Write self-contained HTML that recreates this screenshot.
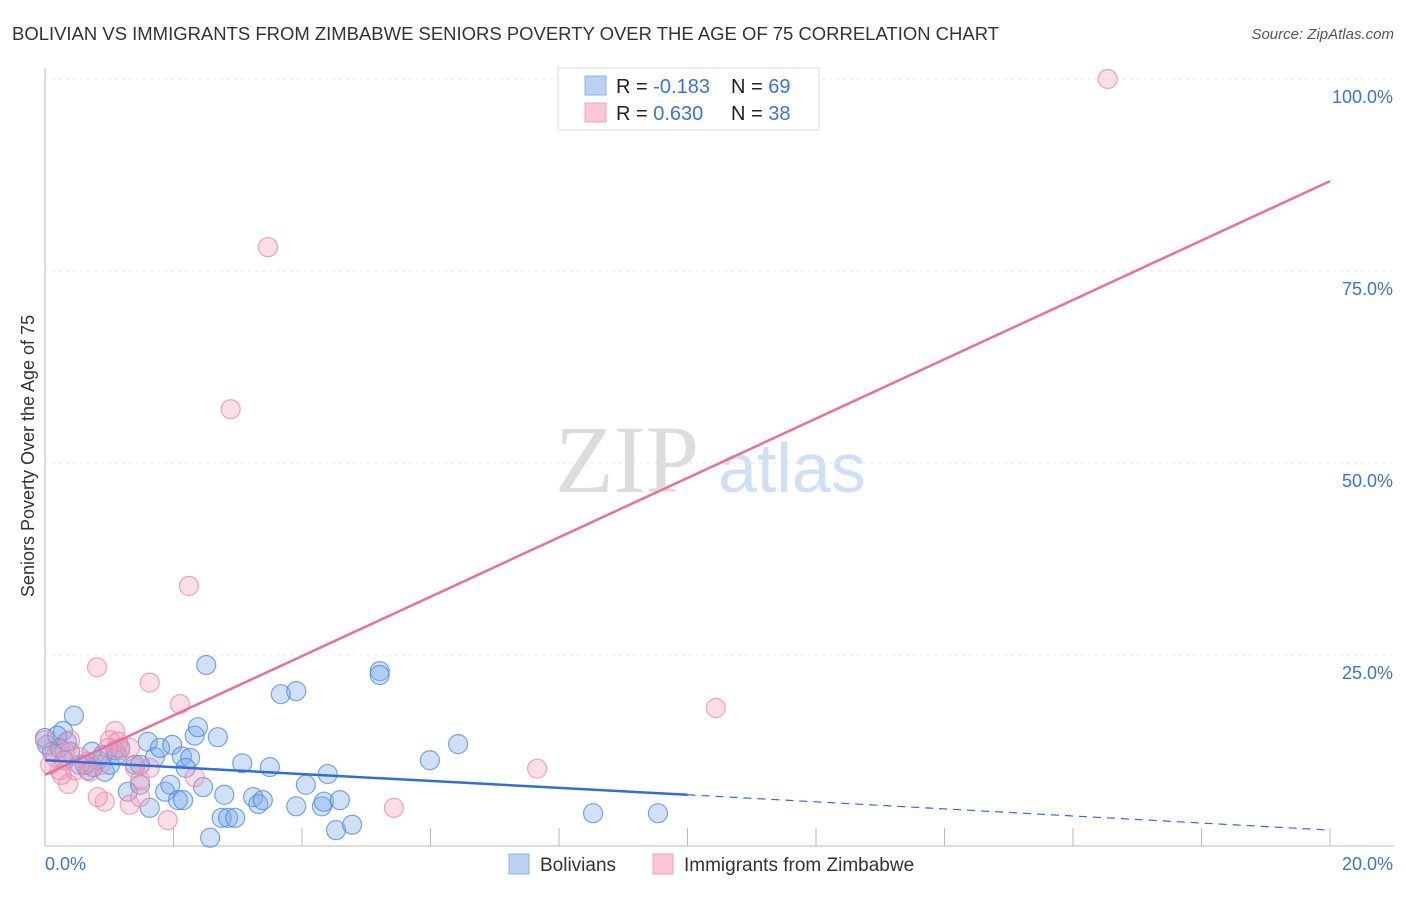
<!DOCTYPE html>
<html><head><meta charset="utf-8"><style>
body{margin:0;background:#fff;font-family:"Liberation Sans",sans-serif;}
</style></head><body>
<svg id="c" width="1406" height="892" xmlns="http://www.w3.org/2000/svg">
<text x="12" y="40" font-size="18" fill="#333" textLength="987" lengthAdjust="spacingAndGlyphs">BOLIVIAN VS IMMIGRANTS FROM ZIMBABWE SENIORS POVERTY OVER THE AGE OF 75 CORRELATION CHART</text>
<text x="1394" y="39" font-size="15" fill="#555" text-anchor="end" font-style="italic">Source: ZipAtlas.com</text>
<text x="555" y="492" font-size="96" fill="#dcdcdc" font-family="Liberation Serif,serif">ZIP</text>
<text x="718" y="492" font-size="70" fill="#cfe0f5">atlas</text>
<text transform="translate(34,456) rotate(-90)" font-size="18" fill="#333" text-anchor="middle">Seniors Poverty Over the Age of 75</text>
<g id="grid"></g><g id="pts"></g><g id="trend"></g>
<g>
<rect x="558" y="68" width="261" height="62" fill="#fff" stroke="#ddd"/>
<rect x="585" y="76" width="21" height="19" fill="#b9d1f3" stroke="#8fb2e6"/>
<rect x="585" y="103" width="21" height="19" fill="#f9c6d5" stroke="#eea5bb"/>
<text x="616" y="93" font-size="20" fill="#222">R = <tspan fill="#3b73d6">-0.183</tspan></text>
<text x="731" y="93" font-size="20" fill="#222">N = <tspan fill="#3b73d6">69</tspan></text>
<text x="616" y="120" font-size="20" fill="#222">R = <tspan fill="#3b73d6"> 0.630</tspan></text>
<text x="731" y="120" font-size="20" fill="#222">N = <tspan fill="#3b73d6">38</tspan></text>
</g>
<g>
<rect x="509" y="854" width="20" height="20" fill="#b9d1f3" stroke="#8fb2e6"/>
<text x="540" y="871" font-size="19" fill="#333">Bolivians</text>
<rect x="653" y="854" width="20" height="20" fill="#f9c6d5" stroke="#eea5bb"/>
<text x="684" y="871" font-size="19" fill="#333">Immigrants from Zimbabwe</text>
</g>
</svg>
<script>
const blueX=[0.45,0.03,0.11,0.23,0.34,0.28,0.39,0.54,0.67,0.75,0.82,0.93,1.01,1.09,1.17,0.73,1.29,1.48,1.40,1.60,1.63,1.71,1.79,1.87,1.98,1.95,2.07,2.15,2.13,2.26,2.19,2.33,2.38,2.46,2.51,2.57,2.69,2.79,2.75,2.85,2.96,3.07,3.24,3.32,3.39,3.50,3.67,3.91,3.91,4.06,4.31,4.40,4.34,4.53,4.59,4.78,5.21,5.21,5.99,6.43,8.53,9.54,0,0.19,0.90,1.12,0.30,0.62,1.48];
const blueY=[17.1,13.3,12.4,12.9,13.7,15.1,12.4,10.7,10.0,10.4,11.3,9.8,10.7,12.6,12.9,12.4,7.2,8.1,10.7,13.7,5.1,11.7,12.9,7.2,13.3,8.1,6.1,6.1,11.8,11.6,10.3,14.5,15.6,7.8,23.7,1.2,14.3,6.8,3.8,3.8,3.8,10.9,6.5,5.6,6.1,10.4,19.9,20.3,5.3,8.1,5.3,9.5,5.9,2.2,6.1,2.9,22.9,22.4,11.3,13.4,4.4,4.4,14.2,14.5,12.0,12.0,11.3,10.7,10.7];
const pinkX=[16.54,3.47,2.89,2.24,0.81,1.63,2.10,10.44,1.09,1.01,0.39,7.66,5.43,0.93,1.91,1.32,1.48,0.82,0.36,0.23,0.08,0.16,0.31,0.54,0.67,1.17,1.32,1.48,1.40,2.33,1.63,0.86,0.47,0,1.14,0.98,0.70,0.26];
const pinkY=[100,78.1,57.0,34.0,23.4,21.4,18.6,18.1,15.1,13.9,13.9,10.2,5.1,5.9,3.5,5.5,6.5,6.5,8.2,10.0,10.7,11.7,12.4,11.7,11.1,12.6,12.9,8.7,10.3,9.1,10.3,10.7,10.0,13.9,13.7,12.9,9.8,9.4];
const pinkTrendX=[0,20], pinkTrendY=[9.4,86.7];
const blueTrendX=[0,10,20], blueTrendY=[11.3,6.8,2.2];
const yTicks=[25,50,75,100], yTickLabels=["25.0%","50.0%","75.0%","100.0%"];
const NS="http://www.w3.org/2000/svg";
const sx=v=>45+v*64.25, sy=v=>847-v*7.68;
function mk(p,t,a){const e=document.createElementNS(NS,t);for(const k in a)e.setAttribute(k,a[k]);p.appendChild(e);return e;}
const grid=document.getElementById('grid');
yTicks.forEach((t,i)=>{
 const l=mk(grid,'line',{x1:45,x2:1394,y1:sy(t),y2:sy(t),stroke:'#e4e4e4','stroke-dasharray':'3,4'});
 
 
 const tx=mk(grid,'text',{x:1393,y:sy(t)+24,'font-size':18,fill:'#3b73d6','text-anchor':'end'});
 tx.textContent=yTickLabels[i];
 
 
});
mk(grid,'line',{x1:45,x2:45,y1:68,y2:846,stroke:'#bbb'});
mk(grid,'line',{x1:45,x2:1394,y1:846,y2:846,stroke:'#bbb'});
for(let i=1;i<=10;i++){const x=sx(i*2);const l=mk(grid,'line',{x1:x,x2:x,y1:828,y2:846,stroke:'#bbb'});
 
 }
const xl=mk(grid,'text',{x:45,y:870,'font-size':18,fill:'#3b73d6'});xl.textContent='0.0%';


const xr=mk(grid,'text',{x:1393,y:870,'font-size':18,fill:'#3b73d6','text-anchor':'end'});xr.textContent='20.0%';


const pts=document.getElementById('pts');
blueX.forEach((v,i)=>{const c=mk(pts,'circle',{cx:sx(v),cy:sy(blueY[i]),r:9.5,fill:'rgba(120,168,232,0.35)',stroke:'rgba(70,130,220,0.7)','stroke-width':1.2});
 
 });
pinkX.forEach((v,i)=>{const c=mk(pts,'circle',{cx:sx(v),cy:sy(pinkY[i]),r:9.5,fill:'rgba(244,160,186,0.35)',stroke:'rgba(236,130,160,0.7)','stroke-width':1.2});
 
 });
const tr=document.getElementById('trend');
const pl=mk(tr,'line',{x1:sx(pinkTrendX[0]),y1:sy(pinkTrendY[0]),x2:sx(pinkTrendX[1]),y2:sy(pinkTrendY[1]),stroke:'#e8709a','stroke-width':2.5});


const bl=mk(tr,'line',{x1:sx(blueTrendX[0]),y1:sy(blueTrendY[0]),x2:sx(blueTrendX[1]),y2:sy(blueTrendY[1]),stroke:'#2f6fd6','stroke-width':2.5});


const bd=mk(tr,'line',{x1:sx(blueTrendX[1]),y1:sy(blueTrendY[1]),x2:sx(blueTrendX[2]),y2:sy(blueTrendY[2]),stroke:'#2f6fd6','stroke-width':1.2,'stroke-dasharray':'8,6'});


</script>
</body></html>
